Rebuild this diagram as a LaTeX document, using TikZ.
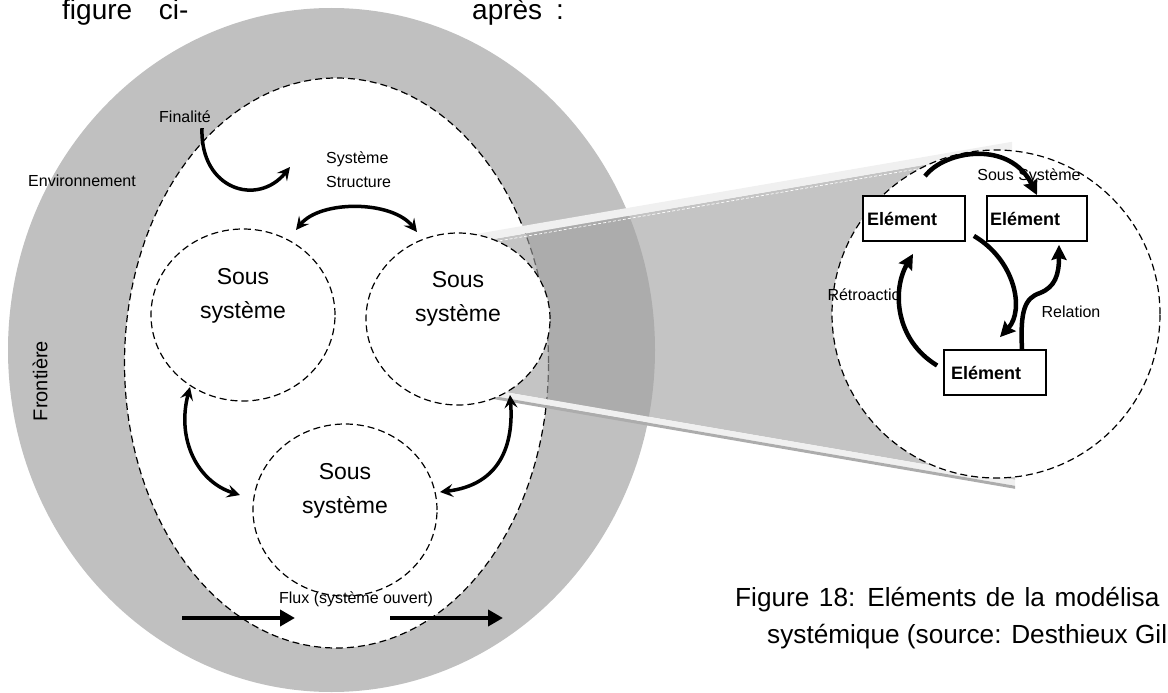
\documentclass[tikz,border=0pt]{standalone}
\usepackage{fontspec}
\setmainfont{Liberation Sans}
\usetikzlibrary{shapes.geometric,arrows.meta}
\definecolor{ringgray}{RGB}{192,192,192}
\definecolor{lensgray}{RGB}{160,160,160}
\definecolor{striplight}{RGB}{240,240,240}
\definecolor{stripdark}{RGB}{172,172,172}
\begin{document}
\begin{tikzpicture}[x=1pt,y=-1pt,
  dashline/.style={dash pattern=on 7pt off 4pt, line width=1.2pt},
  subsys/.style={ellipse, draw, dashline, fill=white, minimum width=184pt, minimum height=172pt, inner sep=0pt},
  subtxt/.style={align=center, inner sep=0pt, font=\fontsize{23}{34}\selectfont},
  lbl/.style={inner sep=0pt, font=\fontsize{16}{19}\selectfont},
  bigtxt/.style={inner sep=0pt, font=\fontsize{28}{32}\selectfont},
  capt/.style={inner sep=0pt, font=\fontsize{26.2}{30}\selectfont},
  elem/.style={draw, line width=1.8pt, fill=white, minimum height=45pt, inner ysep=0pt, align=left, font=\bfseries\fontsize{18}{21}\selectfont},
  curvy/.style={line width=3.5pt, -{Stealth[length=13pt,width=13pt,inset=5pt]}},
  curvytwo/.style={line width=3.5pt, {Stealth[length=13pt,width=13pt,inset=5pt]}-{Stealth[length=13pt,width=13pt,inset=5pt]}},
  elarrow/.style={line width=4.5pt, -{Stealth[length=15pt,width=15pt,inset=2pt]}},
  fluxarrow/.style={line width=4.5pt, -{Triangle[length=15pt,width=16pt]}}
]
\useasboundingbox (0,0) rectangle (1168,693);

% environment ring and system boundary
\node[ellipse, fill=ringgray, minimum width=647pt, minimum height=684pt, inner sep=0pt] (envring) at (331.5,350) {};
\node[ellipse, draw, dashline, fill=white, minimum width=424pt, minimum height=570pt, inner sep=0pt] (sysell) at (336.5,363) {};

% zoom lens
\fill[lensgray, fill opacity=0.62] (475,242.2) -- (1012,149.8) -- (1015,479.8) -- (485,388.6) -- cycle;
\fill[striplight] (475,234.2) -- (1012,141.8) -- (1012,149.8) -- (475,242.2) -- cycle;
\draw[white, dash pattern=on 3pt off 2pt, line width=0.7pt] (475,245) -- (1012,152.6);
\fill[striplight] (485,388.6) -- (1015,479.8) -- (1015,485.8) -- (485,394.6) -- cycle;
\fill[stripdark] (485,394.6) -- (1015,485.8) -- (1015,488.8) -- (485,397.6) -- cycle;

% sub-systems
\node[subsys] (ssl) at (243,315) {};
\node[subsys] (ssr) at (458,319) {};
\node[subsys] (ssb) at (345,510) {};
\node[subtxt] (sslt) at (243,296) {Sous\\système};
\node[subtxt] (ssrt) at (458,299) {Sous\\système};
\node[subtxt] (ssbt) at (345,491) {Sous\\système};

% zoomed circle
\node[circle, draw, dashline, fill=white, minimum size=328pt, inner sep=0pt] (zoomc) at (996,314) {};

% labels
\node[bigtxt, anchor=base west] (top1) at (62,20) {figure\hspace{19pt} ci-};
\node[bigtxt, anchor=base west] (top2) at (472,20) {après\hspace{6pt} :};
\node[lbl] (fin) at (185,117) {Finalité};
\node[lbl] (env) at (82,181) {Environnement};
\node[lbl, anchor=west] (sys) at (326,159) {Système};
\node[lbl, anchor=west] (struc) at (326,182) {Structure};
\node[lbl, font=\fontsize{20}{24}\selectfont, rotate=90] (front) at (40,381) {Frontière};
\node[lbl] (flux) at (356,599) {Flux (système ouvert)};
\node[lbl] (sstxt) at (1029,176) {Sous Système};
\node[lbl] (retro) at (864,295) {Rétroactio};
\node[lbl] (rel) at (1071,312) {Relation};
\node[capt, anchor=base west] (cap1) at (735,606) {\spaceskip=9.5pt Figure 18: Eléments de la modélisa};
\node[capt, anchor=base west] (cap2) at (767,643) {systémique (source: Desthieux Gil};

% elements
\node[elem, text width=94pt, inner xsep=4pt] (b1) at (914,218.5) {Elément};
\node[elem, text width=94pt, inner xsep=3pt] (b2) at (1037,218.5) {Elément};
\node[elem, text width=88pt, inner xsep=7pt] (b3) at (995,372.5) {Elément};

% left diagram arrows
\draw[curvy] ([shift={(17,5)}]fin.south) .. controls (200,190) and (258,207) .. ([shift={(-36,8)}]sys.west);
\draw[curvytwo] ([shift={(53,-85)}]ssl.center) .. controls (320,200) and (392,200) .. ([shift={(-41,-87)}]ssr.center);
\draw[curvytwo] ([shift={(-53,72)}]ssl.center) .. controls (176,440) and (198,482) .. ([shift={(-105,-15)}]ssb.center);
\draw[curvytwo] ([shift={(52,76)}]ssr.center) .. controls (514,445) and (500,485) .. ([shift={(95,-18)}]ssb.center);

% flux
\coordinate (f1s) at (182,618);
\coordinate (f1e) at (295,618);
\coordinate (f2s) at (390,618);
\coordinate (f2e) at (503,618);
\draw[fluxarrow] (f1s) -- (f1e);
\draw[fluxarrow] (f2s) -- (f2e);

% zoomed sub-system arrows
\draw[elarrow] ([shift={(11,-19)}]b1.north) .. controls (945,150) and (1010,140) .. (b2.north);
\draw[elarrow] ([shift={(8,-6)}]b1.south east) .. controls (1015,260) and (1025,310) .. ([shift={(5,-12)}]b3.north);
\draw[elarrow] ([shift={(-6,-7)}]b3.west) .. controls (895,340) and (892,290) .. ([shift={(-1,12)}]b1.south);
\draw[elarrow] ([shift={(27,0)}]b3.north) .. controls (1020,310) and (1025,298) .. (1040,293) .. controls (1055,287) and (1059,275) .. ([shift={(22,3)}]b2.south);
\end{tikzpicture}
\end{document}
